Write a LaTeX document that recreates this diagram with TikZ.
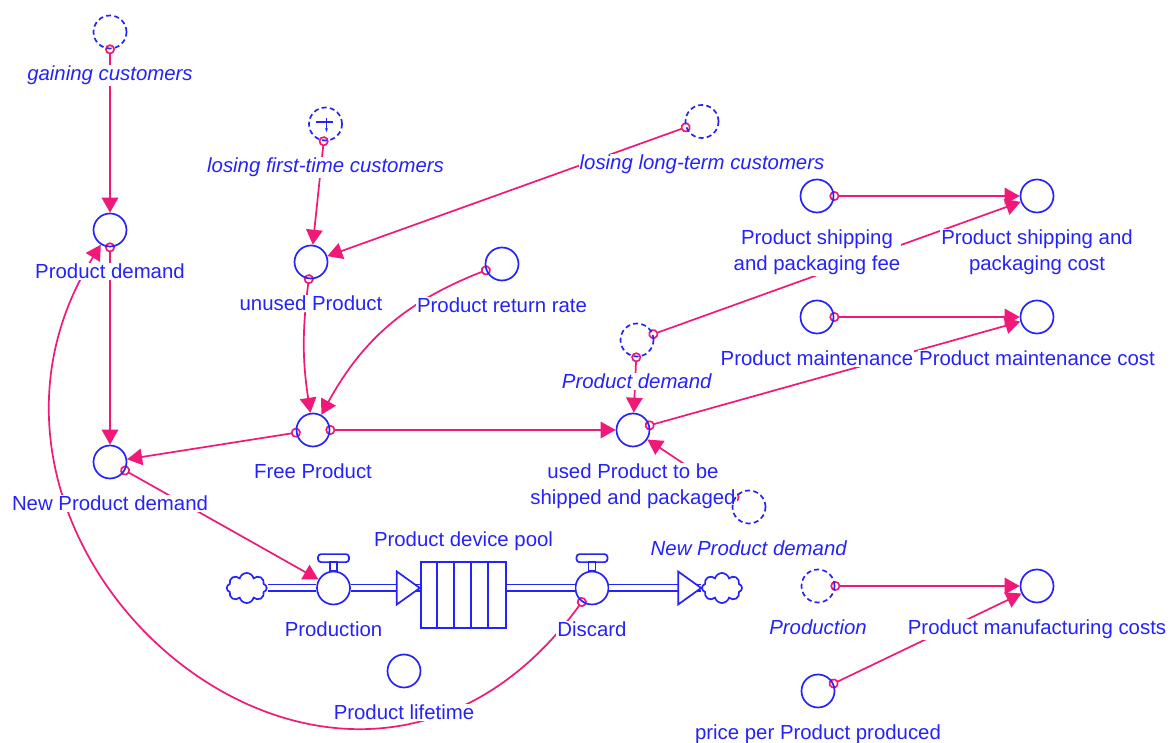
\documentclass[tikz,border=0pt]{standalone}
\usepackage{fontspec}
\setmainfont{Liberation Sans}
\usetikzlibrary{arrows.meta, shapes.symbols, backgrounds}
\definecolor{vblue}{RGB}{35,35,250}
\definecolor{vpink}{RGB}{240,25,120}

\begin{document}
\begin{tikzpicture}[x=0.02cm, y=0.02cm,
    every label/.style={fill=white, inner sep=0.02cm, text=vblue, align=center,
        font=\fontsize{11.6}{14.7}\selectfont},
    label distance=0.3cm,
    aux/.style={circle, draw=vblue, line width=0.034cm, minimum size=0.66cm, inner sep=0pt},
    ghost/.style={aux, dash pattern=on 0.1cm off 0.065cm},
    link/.style={draw=vpink, line width=0.034cm, shorten <=-0.1cm,
        {Circle[fill=white, length=0.2cm]}-{Triangle[length=0.3cm, width=0.33cm]}},
    pipe/.style={draw=vblue, line width=0.034cm, double=white, double distance=0.1cm},
    cloudy/.style={cloud, cloud puffs=8, draw=vblue, line width=0.034cm,
        minimum width=0.8cm, minimum height=0.6cm, inner sep=0pt}]
    \useasboundingbox (0,0) rectangle (1170,743);

    \node[ghost, label=below:\textit{gaining customers}] (gc) at (110,711) {};
    \node[aux, label=below:Product demand] (pd) at (110,513) {};
    \node[ghost, label=below:\textit{losing first-time customers}] (lft) at (325.5,619) {};
    \node[ghost, label=below:\textit{losing long-term customers}] (llt) at (702,621.5) {};
    \node[aux, label=below:unused Product] (up) at (311,481) {};
    \node[aux, label=below:Product return rate] (prr) at (502,479) {};
    \node[aux, label=below:Free Product] (fp) at (313,313) {};
    \node[aux, label=below:New Product demand] (npd) at (110,281) {};
    \node[ghost, label=below:\textit{Product demand}] (pdg) at (637,403) {};
    \node[aux, label={below:used Product to be\\shipped and packaged}] (uptbs) at (633,313) {};
    \node[ghost, label=below:\textit{New Product demand}] (npdg) at (749,236) {};
    \node[aux, label={below:Product shipping\\and packaging fee}] (pspf) at (817,547) {};
    \node[aux, label={below:Product shipping and\\packaging cost}] (pspc) at (1037,547) {};
    \node[aux, label=below:Product maintenance] (pm) at (817,426) {};
    \node[aux, label=below:Product maintenance cost] (pmc) at (1037,426) {};
    \node[ghost, label=below:\textit{Production}] (prodg) at (818,157) {};
    \node[aux, label=below:Product manufacturing costs] (pmcs) at (1037,157) {};
    \node[aux, label=below:price per Product produced] (pppp) at (818,52) {};
    \node[aux, label=below:Product lifetime] (plt) at (404,72) {};

    % stock and flows
    \node[cloudy] (cloudL) at (246.7,155) {};
    \node[cloudy] (cloudR) at (722,155) {};
    \node[aux, label=below:Production] (prod) at (333.5,155) {};
    \node[aux, label=below:Discard] (dis) at (592,155) {};
    \node[draw=vblue, line width=0.034cm, minimum width=1.714cm, minimum height=1.332cm,
        inner sep=0pt, label={[label distance=0.18cm]above:Product device pool}] (pool) at (463.5,148) {};
    \foreach \i in {1,...,4}
        \draw[vblue, line width=0.034cm] (pool.south west) ++(\i*17.1,0) -- ++(0,66.6);
    \foreach \v in {prod, dis} {
        \draw[vblue, line width=0.034cm] (\v.north) ++(-3.5,0) rectangle ++(7,8.5);
        \draw[vblue, line width=0.034cm, rounded corners=0.06cm] (\v.north) ++(-15.5,8.5) rectangle ++(31,8);
    }
    \draw[pipe] (cloudL) -- (prod);
    \draw[pipe] (prod) -- (pool.west |- prod);
    \draw[pipe] (pool.east |- dis) -- (dis);
    \draw[pipe] (dis) -- (cloudR);
    \draw[vblue, line width=0.034cm, fill=white] (pool.west |- prod) -- ++(-23,16.5) -- ++(0,-33) -- cycle;
    \draw[vblue, line width=0.034cm, fill=white] (cloudR.west) -- ++(-23,16.5) -- ++(0,-33) -- cycle;

    % mark inside the ghost
    \draw[vblue, line width=0.025cm] (lft) ++(-9.5,2) -- ++(17,0);
    \draw[vblue, line width=0.025cm, -{Stealth[length=0.08cm]}] (lft) ++(1,6) -- ++(0,-14);

    \begin{pgfonlayer}{background}
        \draw[link] (gc) -- (pd);
        \draw[link] (pd) -- (npd);
        \draw[link] (lft) -- (up);
        \draw[link] (llt) -- (up);
        \draw[link] (up) to[bend right=8] (fp);
        \draw[link] (prr) to[bend right=20] (fp);
        \draw[link] (fp) -- (npd);
        \draw[link] (fp) -- (uptbs);
        \draw[link] (pdg) -- (uptbs);
        \draw[link] (npdg) -- (uptbs);
        \draw[link] (pdg) -- (pspc);
        \draw[link] (uptbs) -- (pmc);
        \draw[link] (pspf) -- (pspc);
        \draw[link] (pm) -- (pmc);
        \draw[link] (prodg) -- (pmcs);
        \draw[link] (pppp) -- (pmcs);
        \draw[link] (npd) -- (prod);
        \draw[link] (dis) to[out=-126, in=238, out looseness=1.72, in looseness=1.55] (pd);
    \end{pgfonlayer}
\end{tikzpicture}
\end{document}
